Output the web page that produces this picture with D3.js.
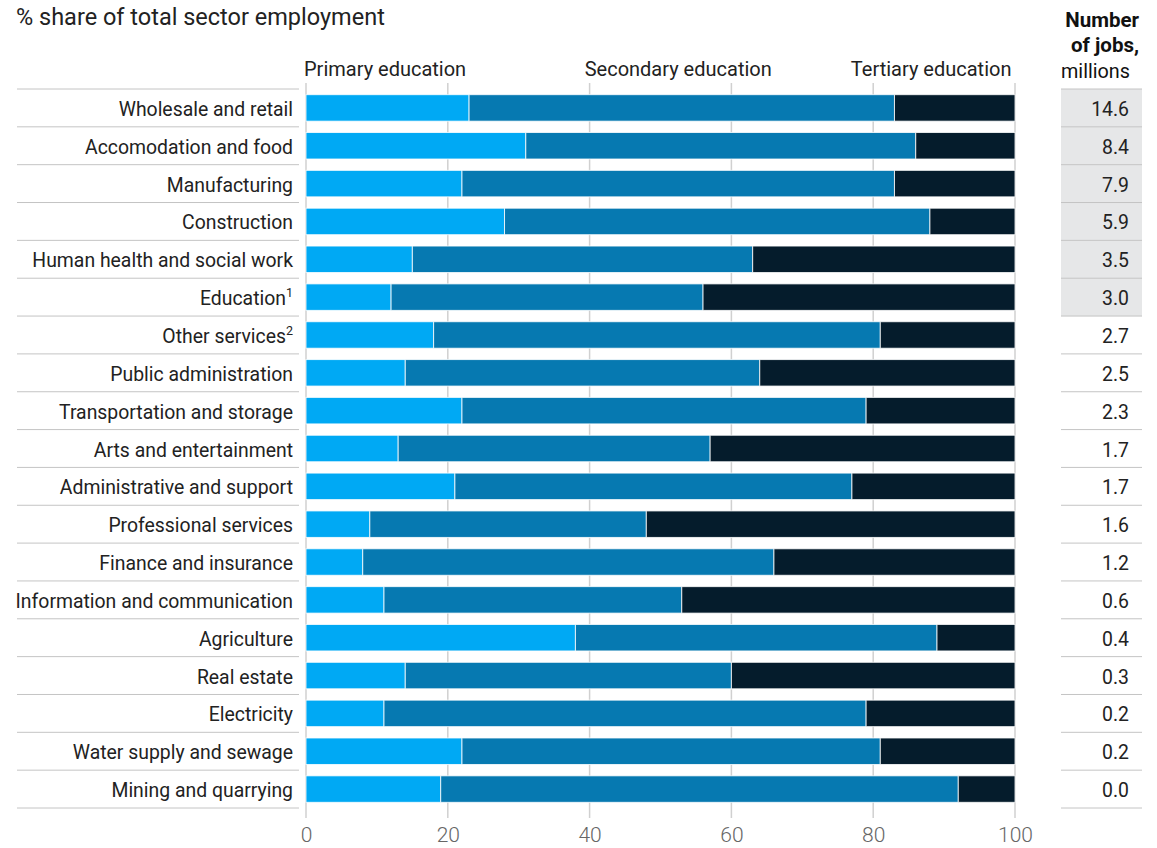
<!DOCTYPE html>
<html>
<head>
    <meta charset="utf-8">
    <title>Sector employment by education</title>
    <script type="text/javascript" src="https://cdn.jsdelivr.net/npm/d3@7"></script>
    <style type="text/css">
        html, body {
            margin: 0;
            background: #fff;
        }

        svg {
            display: block;
            font-family: Roboto, "Noto Sans", sans-serif;
        }

        .sep {
            stroke: #c4c4c4;
            stroke-width: 1;
        }

        .grid {
            stroke: #d0d0d0;
            stroke-width: 1.5;
        }
    </style>
</head>

<body>

<svg></svg>

<script type="text/javascript">
    var sectors = ["Wholesale and retail", "Accomodation and food", "Manufacturing", "Construction",
        "Human health and social work", "Education", "Other services", "Public administration",
        "Transportation and storage", "Arts and entertainment", "Administrative and support",
        "Professional services", "Finance and insurance", "Information and communication",
        "Agriculture", "Real estate", "Electricity", "Water supply and sewage", "Mining and quarrying"];
    var footnotes = ["", "", "", "", "", "1", "2", "", "", "", "", "", "", "", "", "", "", "", ""];

    var primary   = [23, 31, 22, 28, 15, 12, 18, 14, 22, 13, 21,  9,  8, 11, 38, 14, 11, 22, 19];
    var secondary = [60, 55, 61, 60, 48, 44, 63, 50, 57, 44, 56, 39, 58, 42, 51, 46, 68, 59, 73];
    var tertiary  = [17, 14, 17, 12, 37, 44, 19, 36, 21, 43, 23, 52, 34, 47, 11, 40, 21, 19,  8];

    var jobs = [14.6, 8.4, 7.9, 5.9, 3.5, 3.0, 2.7, 2.5, 2.3, 1.7, 1.7, 1.6, 1.2, 0.6, 0.4, 0.3, 0.2, 0.2, 0.0];
    var highlighted = 6; // first rows with grey background

    var seriesNames = ["Primary education", "Secondary education", "Tertiary education"];
    var colors = ["#00a9f4", "#0679b1", "#051c2c"];
    var xTicks = [0, 20, 40, 60, 80, 100];

    var w = 1157, h = 848;
    var svg = d3.select("svg").attr("width", w).attr("height", h);

    var x = d3.scaleLinear().domain([0, 100]).range([306, 1015]);
    var y = d3.scaleBand().domain(d3.range(sectors.length)).range([89, 808]).paddingInner(0.3).paddingOuter(0.15);
    var rowY = d3.scaleBand().domain(d3.range(sectors.length)).range([89, 808]);

    var rows = sectors.map(function (s, i) {
        return {i: i, name: s, p: primary[i], s: secondary[i], t: tertiary[i]};
    });
    var stack = d3.stack().keys(["p", "s", "t"])(rows);

    // title
    svg.append("text")
        .attr("x", 16).attr("y", 25)
        .attr("font-size", 23.5).attr("fill", "#222")
        .text("% share of total sector employment");

    // vertical grid lines
    svg.append("g").selectAll("line")
        .data(xTicks)
        .enter().append("line")
        .attr("class", "grid")
        .attr("x1", function (d) { return x(d); })
        .attr("x2", function (d) { return x(d); })
        .attr("y1", 83).attr("y2", 818);

    // series headers
    svg.append("g").selectAll("text")
        .data(seriesNames)
        .enter().append("text")
        .attr("x", function (d, i) { return [x(0) - 2, x(52.5), x(99.5)][i]; })
        .attr("y", 76)
        .attr("text-anchor", function (d, i) { return ["start", "middle", "end"][i]; })
        .attr("font-size", 20).attr("fill", "#222")
        .text(function (d) { return d; });

    // right column background
    svg.append("g").selectAll("rect")
        .data(jobs.slice(0, highlighted))
        .enter().append("rect")
        .attr("x", 1061).attr("width", 81)
        .attr("y", function (d, i) { return rowY(i); })
        .attr("height", rowY.bandwidth())
        .attr("fill", "#e6e7e8");

    // row separators, left and right
    var seps = d3.range(sectors.length + 1).map(function (i) { return 89 + i * rowY.bandwidth(); });
    svg.append("g").selectAll("line")
        .data(seps)
        .enter().append("line")
        .attr("class", "sep")
        .attr("x1", 17).attr("x2", 299)
        .attr("y1", function (d) { return d; }).attr("y2", function (d) { return d; });
    svg.append("g").selectAll("line")
        .data(seps)
        .enter().append("line")
        .attr("class", "sep")
        .attr("x1", 1061).attr("x2", 1142)
        .attr("y1", function (d) { return d; }).attr("y2", function (d) { return d; });

    // bars
    svg.append("g").selectAll("g")
        .data(stack)
        .enter().append("g")
        .attr("fill", function (d, i) { return colors[i]; })
        .selectAll("rect")
        .data(function (d) { return d; })
        .enter().append("rect")
        .attr("x", function (d) { return x(d[0]); })
        .attr("width", function (d) { return x(d[1]) - x(d[0]); })
        .attr("y", function (d) { return y(d.data.i); })
        .attr("height", y.bandwidth())
        .attr("stroke", "#fff")
        .attr("stroke-opacity", 0.8)
        .attr("stroke-width", 1);

    // sector labels
    var labels = svg.append("g").selectAll("text")
        .data(rows)
        .enter().append("text")
        .attr("x", 293)
        .attr("y", function (d) { return rowY(d.i) + rowY.bandwidth() / 2 + 8; })
        .attr("text-anchor", "end")
        .attr("font-size", 19.4).attr("fill", "#222");
    labels.append("tspan").text(function (d) { return d.name; });
    labels.append("tspan")
        .attr("dy", -8).attr("font-size", 12.5)
        .text(function (d) { return footnotes[d.i]; });

    // jobs column
    svg.append("g").selectAll("text")
        .data(jobs)
        .enter().append("text")
        .attr("x", 1129)
        .attr("y", function (d, i) { return rowY(i) + rowY.bandwidth() / 2 + 8; })
        .attr("text-anchor", "end")
        .attr("font-size", 19.4).attr("fill", "#222")
        .text(function (d) { return d.toFixed(1); });

    var head = svg.append("text")
        .attr("text-anchor", "end").attr("font-size", 20.5).attr("fill", "#111");
    head.append("tspan").attr("x", 1139).attr("y", 27).attr("font-weight", 700).text("Number");
    head.append("tspan").attr("x", 1139).attr("y", 52).attr("font-weight", 700).text("of jobs,");
    head.append("tspan").attr("x", 1130).attr("y", 78).attr("font-size", 19.8).text("millions");

    // x axis
    var axis = svg.append("g")
        .attr("transform", "translate(0,818)")
        .call(d3.axisBottom(x).tickValues(xTicks).tickSize(0).tickPadding(9));
    axis.select(".domain").remove();
    axis.selectAll("text")
        .attr("font-family", "Roboto, sans-serif")
        .attr("font-size", 21).attr("font-weight", 300).attr("fill", "#666");
</script>

</body>
</html>
